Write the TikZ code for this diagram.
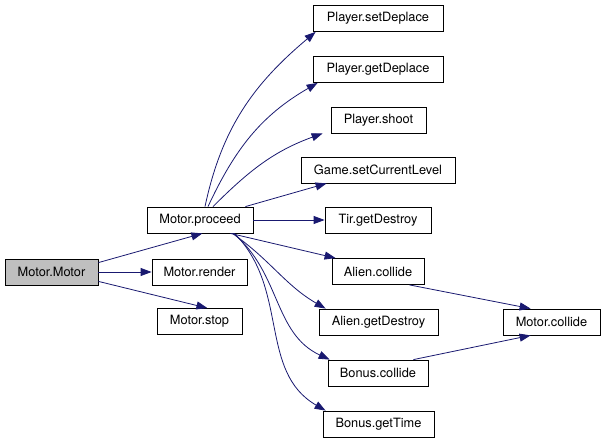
\documentclass[tikz,border=0pt]{standalone}
\usepackage{fontspec}
\setmainfont{TeX Gyre Heros}
\usetikzlibrary{arrows.meta}
\definecolor{edgeblue}{RGB}{25,25,112}
\definecolor{rootgray}{RGB}{191,191,191}

\begin{document}
\begin{tikzpicture}[x=1pt, y=-1pt,
    fn/.style={draw, line width=0.8pt, minimum height=26pt, inner sep=0pt,
      font=\fontsize{12.8}{14}\selectfont},
    call/.style={draw=edgeblue, line width=0.8pt,
      -{Triangle[length=11pt,width=8pt]}, edgeblue}]
    \useasboundingbox (0,0) rectangle (605,443);
    \node[fn, fill=rootgray, minimum width=93pt] at (51.5,272) (mm)
      {Motor.Motor};
    \node[fn, minimum width=106pt] at (200,220) (pro)
      {Motor.proceed};
    \node[fn, minimum width=95pt] at (199.5,272) (ren)
      {Motor.render};
    \node[fn, minimum width=85pt] at (199.5,321.5) (stp)
      {Motor.stop};
    \node[fn, minimum width=130pt] at (378,18.5) (sd)
      {Player.setDeplace};
    \node[fn, minimum width=130pt] at (378,69.5) (gd)
      {Player.getDeplace};
    \node[fn, minimum width=95pt] at (378.5,120) (sh)
      {Player.shoot};
    \node[fn, minimum width=154pt] at (378,170) (lvl)
      {Game.setCurrentLevel};
    \node[fn, minimum width=106pt] at (378,220) (tir)
      {Tir.getDestroy};
    \node[fn, minimum width=92pt] at (378,271.5) (ac)
      {Alien.collide};
    \node[fn, minimum width=119pt] at (378.5,322) (ag)
      {Alien.getDestroy};
    \node[fn, minimum width=100pt] at (378,373) (bc)
      {Bonus.collide};
    \node[fn, minimum width=111pt] at (378.5,424) (bt)
      {Bonus.getTime};
    \node[fn, minimum width=97pt] at (551.5,322) (mc)
      {Motor.collide};
    \path
      ([yshift=-4pt]mm.north east) edge[call] ([xshift=-51pt]pro.south east)
      (mm) edge[call] (ren)
      ([yshift=4pt]mm.south east) edge[call] ([xshift=-35pt]stp.north east);
    \path
      ([xshift=5pt]pro.north) edge[call, out=78, in=220]
        ([xshift=3pt]sd.south west)
      ([xshift=8pt]pro.north) edge[call, out=65, in=210]
        ([xshift=5pt]gd.south west)
      ([xshift=13pt]pro.north) edge[call, out=45, in=200]
        ([xshift=-8pt]sh.south west)
      ([xshift=-8pt]pro.north east) edge[call]
        ([xshift=26pt]lvl.south west)
      (pro) edge[call] (tir)
      ([xshift=-23pt]pro.south east) edge[call]
        ([xshift=4pt]ac.north west)
      ([xshift=-21pt]pro.south east) edge[call, out=-35, in=150]
        ([xshift=7pt]ag.north west)
      ([xshift=-20pt]pro.south east) edge[call, out=-40, in=155]
        ([xshift=2pt]bc.north west)
      ([xshift=-19pt]pro.south east) edge[call, out=-45, in=150]
        ([xshift=3pt]bt.north west);
    \path
      ([xshift=-15pt]ac.south east) edge[call] ([xshift=28pt]mc.north west)
      ([xshift=-15pt]bc.north east) edge[call] ([xshift=28pt]mc.south west);
  \end{tikzpicture}
\end{document}
